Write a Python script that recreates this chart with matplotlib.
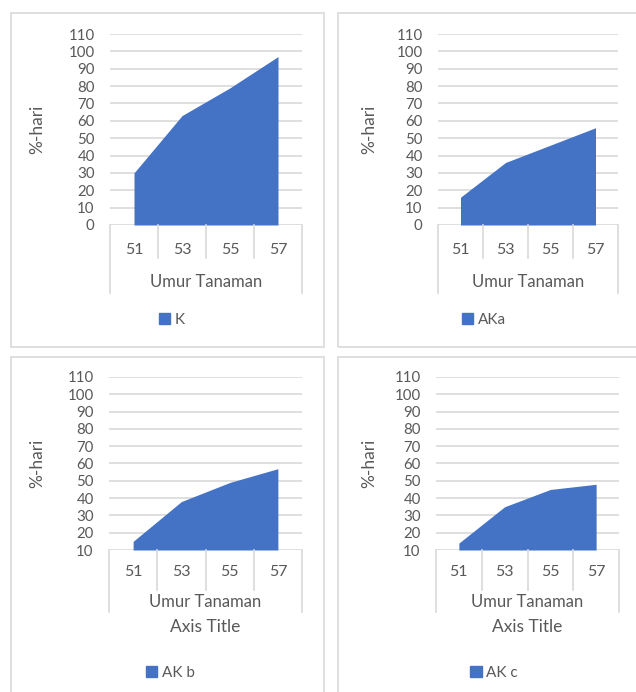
import matplotlib.pyplot as plt
from matplotlib.patches import Rectangle, Patch
from matplotlib.lines import Line2D

W, H = 636, 692

umur = ['51', '53', '55', '57']
k_vals = [30, 63, 79, 97]
aka_vals = [16, 36, 46, 56]
akb_vals = [15, 38, 49, 57]
akc_vals = [14, 35, 45, 48]

biru = '#4472C4'
abu = '#595959'
garis = '#D9D9D9'

plt.rcParams['font.family'] = ['Lato', 'DejaVu Sans']

fig = plt.figure(figsize=(W / 100, H / 100), dpi=100)


def fx(x):
    return x / W


def fy(y):
    return 1 - y / H


def garis_fig(x0, y0, x1, y1):
    fig.add_artist(Line2D([fx(x0), fx(x1)], [fy(y0), fy(y1)], color=garis, lw=1.2))


def panel(box, plot, ymin, vals, nama, lab_y, umur_y, inner_bot, outer_bot,
          legend_xy, ylab_x, axis_title_y=None):
    # bingkai chart
    bx0, by0, bx1, by1 = box
    fig.add_artist(Rectangle((fx(bx0), fy(by1)), fx(bx1) - fx(bx0), fy(by0) - fy(by1),
                             fill=False, ec=garis, lw=1.2))
    x0, ytop, x1, ybot = plot
    ax = fig.add_axes([fx(x0), fy(ybot), fx(x1) - fx(x0), fy(ytop) - fy(ybot)])
    xs = list(range(len(umur)))
    ax.fill_between(xs, ymin, vals, color=biru, lw=0, zorder=3)
    ax.set_xlim(-0.5, len(umur) - 0.5)
    ax.set_ylim(ymin, 110)
    ax.set_yticks(range(ymin, 111, 10))
    ax.set_xticks([])
    ax.grid(axis='y', color=garis, lw=1.2, zorder=0)
    for s in ax.spines.values():
        s.set_visible(False)
    ax.tick_params(axis='y', length=0, pad=11, labelsize=10.8, labelcolor=abu)
    ax.set_ylabel('%-hari', fontsize=12.5, color=abu)
    ax.yaxis.set_label_coords((ylab_x - x0) / (x1 - x0), 0.5)

    # sumbu kategori bertingkat
    lebar = (x1 - x0) / len(umur)
    for i in range(len(umur) + 1):
        xx = x0 + i * lebar
        bawah = outer_bot if i in (0, len(umur)) else inner_bot
        garis_fig(xx, ybot, xx, bawah)
    for i, u in enumerate(umur):
        fig.text(fx(x0 + (i + 0.5) * lebar), fy(lab_y), u, ha='center', va='center',
                 fontsize=11.5, color=abu)
    fig.text(fx((x0 + x1) / 2), fy(umur_y), 'Umur Tanaman', ha='center', va='center',
             fontsize=12, color=abu)
    if axis_title_y is not None:
        fig.text(fx((x0 + x1) / 2), fy(axis_title_y), 'Axis Title', ha='center', va='center',
                 fontsize=12.5, color=abu)

    fig.legend(handles=[Patch(color=biru, label=nama)], loc='center',
               bbox_to_anchor=(fx(legend_xy[0]), fy(legend_xy[1])), frameon=False,
               handlelength=0.75, handleheight=0.75, handletextpad=0.3,
               fontsize=11, labelcolor=abu)


panel((11, 13, 324, 347), (110, 34, 302, 225), 0, k_vals, 'K',
      250, 282, 258, 293, (172, 320), 45)
panel((338, 13, 640, 347), (438, 34, 618, 225), 0, aka_vals, 'AKa',
      250, 282, 258, 293, (484, 320), 377)
panel((11, 357, 324, 700), (109, 377, 302, 550), 10, akb_vals, 'AK b',
      572, 602, 590, 612, (170, 673), 45, 627)
panel((338, 357, 640, 700), (436, 377, 619, 550), 10, akc_vals, 'AK c',
      572, 602, 590, 612, (494, 673), 377, 627)

fig.savefig('out.png', dpi=100)
